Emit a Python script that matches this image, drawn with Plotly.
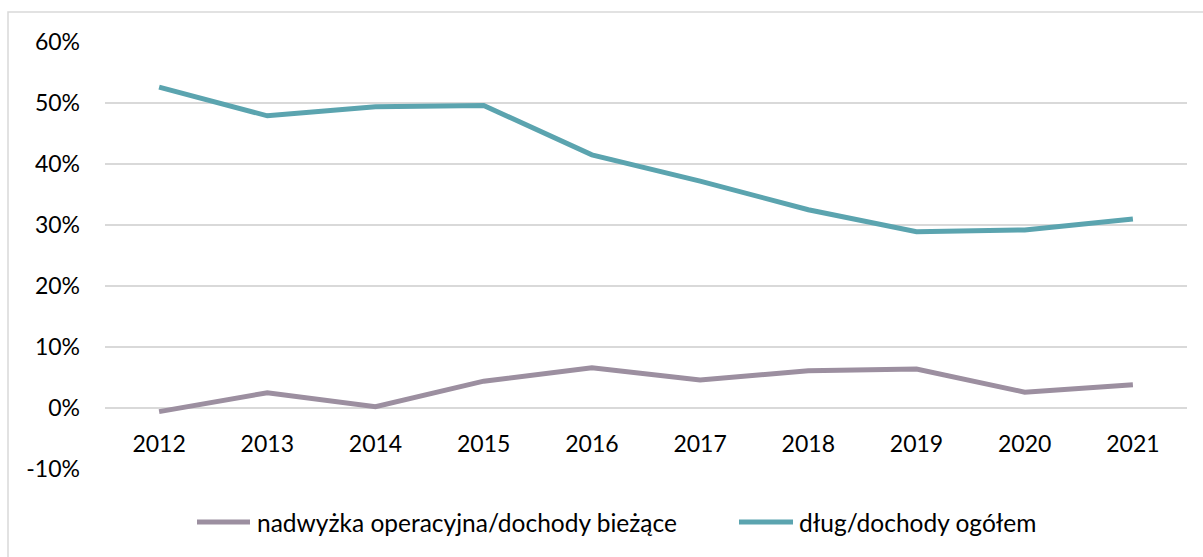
import plotly.graph_objects as go

years = ["2012", "2013", "2014", "2015", "2016", "2017", "2018", "2019", "2020", "2021"]
nadwyzka = [-0.6, 2.5, 0.2, 4.4, 6.6, 4.6, 6.1, 6.4, 2.6, 3.8]
dlug = [52.6, 47.9, 49.4, 49.6, 41.5, 37.2, 32.5, 28.9, 29.2, 31.0]

y_tick_values = [-10, 0, 10, 20, 30, 40, 50, 60]
y_tick_labels = ["-10%", "0%", "10%", "20%", "30%", "40%", "50%", "60%"]

series_names = ["nadwyżka operacyjna/dochody bieżące", "dług/dochody ogółem"]
series_colors = ["#9C8FA0", "#5BA4AF"]

FONT = "Lato"
FS = 23
LEGEND_FS = 24.5
W, H = 1203, 557
ML, MR, MT, MB = 105, 16, 42, 88
PW, PH = W - ML - MR, H - MT - MB

fig = go.Figure()
for name, vals, col in zip(series_names, [nadwyzka, dlug], series_colors):
    fig.add_trace(go.Scatter(
        x=years, y=vals, name=name, mode="lines",
        line=dict(color=col, width=5), showlegend=False,
    ))

def px_to_paper_x(px):
    return (px - ML) / PW

def px_to_paper_y(py):
    return (H - MB - py) / PH

shapes = [
    # outer chart frame
    dict(type="rect", xref="paper", yref="paper",
         x0=px_to_paper_x(8), x1=px_to_paper_x(1215),
         y0=px_to_paper_y(570), y1=px_to_paper_y(12),
         line=dict(color="#D9D9D9", width=1.5), layer="below"),
]
annotations = []

# legend drawn as line samples with labels
legend_items = [(197, 250, 255), (739, 793, 797)]
ly = px_to_paper_y(522)
for (lx0, lx1, tx), name, col in zip(legend_items, series_names, series_colors):
    shapes.append(dict(type="line", xref="paper", yref="paper",
                       x0=px_to_paper_x(lx0), x1=px_to_paper_x(lx1), y0=ly, y1=ly,
                       line=dict(color=col, width=5)))
    annotations.append(dict(xref="paper", yref="paper", x=px_to_paper_x(tx), y=ly,
                            text=name, showarrow=False, xanchor="left", yanchor="middle",
                            font=dict(family=FONT, size=LEGEND_FS, color="#000000")))

ymin, ymax = -10, 60
fig.update_layout(
    width=W, height=H,
    margin=dict(l=ML, r=MR, t=MT, b=MB),
    paper_bgcolor="white", plot_bgcolor="white",
    font=dict(family=FONT, size=FS, color="#000000"),
    shapes=shapes, annotations=annotations,
    xaxis=dict(
        type="category", range=[-0.5, len(years) - 0.5],
        showgrid=False, showline=False, ticks="",
        anchor="free", position=(0 - ymin) / (ymax - ymin),
        ticklabelstandoff=20, zeroline=False,
    ),
    yaxis=dict(
        range=[ymin, ymax], tickvals=y_tick_values, ticktext=y_tick_labels,
        showgrid=True, gridcolor="#D9D9D9", gridwidth=1.5,
        zeroline=False, showline=False, ticks="", ticklabelstandoff=24,
    ),
)

fig.write_html("out.html")
